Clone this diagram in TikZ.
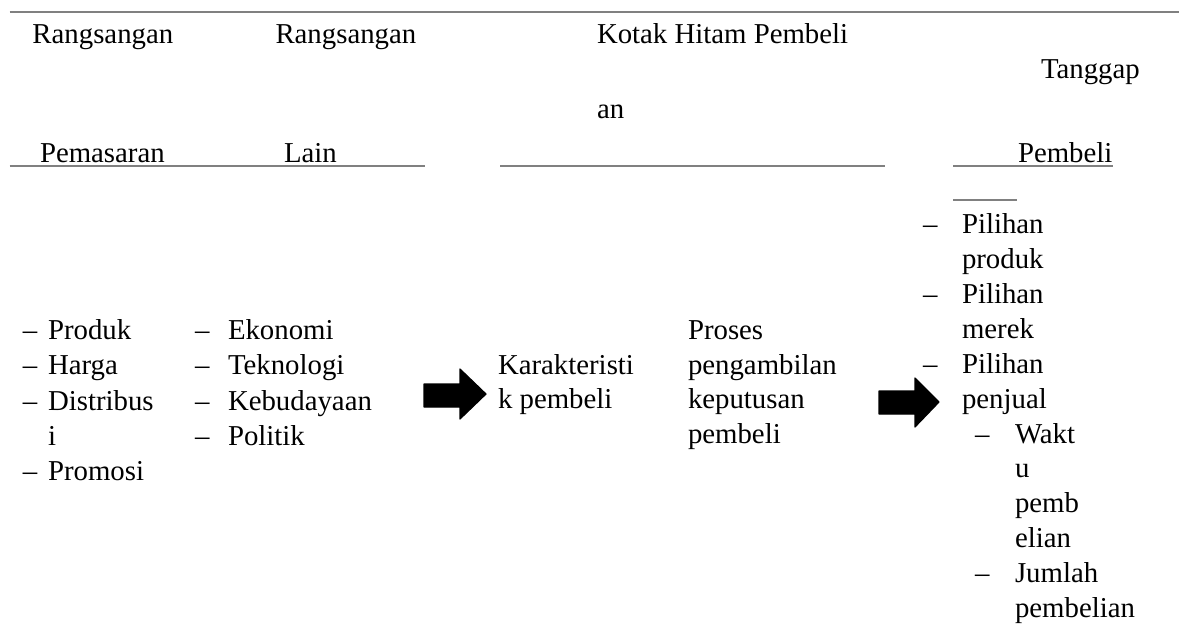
\documentclass[tikz,border=0pt]{standalone}
\usepackage{fontspec}
\setmainfont{Liberation Serif}

\tikzset{
    txt/.style={anchor=base west, inner sep=0pt, outer sep=0pt,
        font=\fontsize{14.4}{17.4}\selectfont},
    rule/.style={draw=gray, line width=0.9pt},
    blockarrow/.style={fill=black, draw=black, line width=0.6pt, line join=round}
}

\begin{document}
\begin{tikzpicture}[x=0.5pt, y=-0.5pt]

        \useasboundingbox (0,0) rectangle (1179,623);

        % header rules
        \draw[rule] (9.5,12) -- (1179,12);
        \draw[rule]
            (9.5,166) -- (425,166)
            (500,166) -- (885,166)
            (953,166) -- (1113,166)
            (953,200) -- (1017,200);

        % header texts
        \node[txt] (rangsA) at (32.5,43) {Rangsangan};
        \node[txt] (rangsB) at (275.5,43) {Rangsangan};
        \node[txt] (kotak) at (597,43) {Kotak Hitam Pembeli};
        \node[txt] (kotakan) at (597,118) {an};
        \node[txt] (tanggap) at (1041,78) {Tanggap};
        \node[txt] (pemasaran) at (40,162) {Pemasaran};
        \node[txt] (lain) at (284,162) {Lain};
        \node[txt] (pembeli) at (1018,162) {Pembeli};

        % rangsangan pemasaran
        \foreach \y/\t in {339/Produk, 374/Harga, 410/Distribus, 480/Promosi}
            \node[txt] (dashA\y) at (23,\y) {--};
        \foreach \y/\t in {339/Produk, 374/Harga, 410/Distribus, 445/i, 480/Promosi}
            \node[txt] (mkt\y) at (48,\y) {\t};

        % rangsangan lain
        \foreach \y/\t in {339/Ekonomi, 374/Teknologi, 410/Kebudayaan, 445/Politik} {
            \node[txt] (dashB\y) at (195,\y) {--};
            \node[txt] (oth\y) at (228,\y) {\t};
        }

        % kotak hitam
        \node[txt] (karA) at (498,374) {Karakteristi};
        \node[txt] (karB) at (498,408) {k pembeli};
        \foreach \y/\t in {339/Proses, 374/pengambilan, 408/keputusan, 443/pembeli}
            \node[txt] (pro\y) at (688,\y) {\t};

        % tanggapan pembeli
        \foreach \y in {233, 303, 373}
            \node[txt] (dashC\y) at (923,\y) {--};
        \foreach \y/\t in {233/Pilihan, 268/produk, 303/Pilihan, 338/merek, 373/Pilihan, 408/penjual}
            \node[txt] (resp\y) at (962,\y) {\t};
        \foreach \y in {443, 582}
            \node[txt] (dashD\y) at (975,\y) {--};
        \foreach \y/\t in {443/Wakt, 477/u, 512/pemb, 547/elian, 582/Jumlah, 617/pembelian}
            \node[txt] (sub\y) at (1015,\y) {\t};

        % block arrows
        \filldraw[blockarrow]
            (424,384) -- (460,384) -- (460,369) -- (486,394)
            -- (460,419) -- (460,407) -- (424,407) -- cycle;
        \filldraw[blockarrow]
            (879,391) -- (915,391) -- (915,378) -- (939,402)
            -- (915,427) -- (915,414) -- (879,414) -- cycle;

\end{tikzpicture}
\end{document}
